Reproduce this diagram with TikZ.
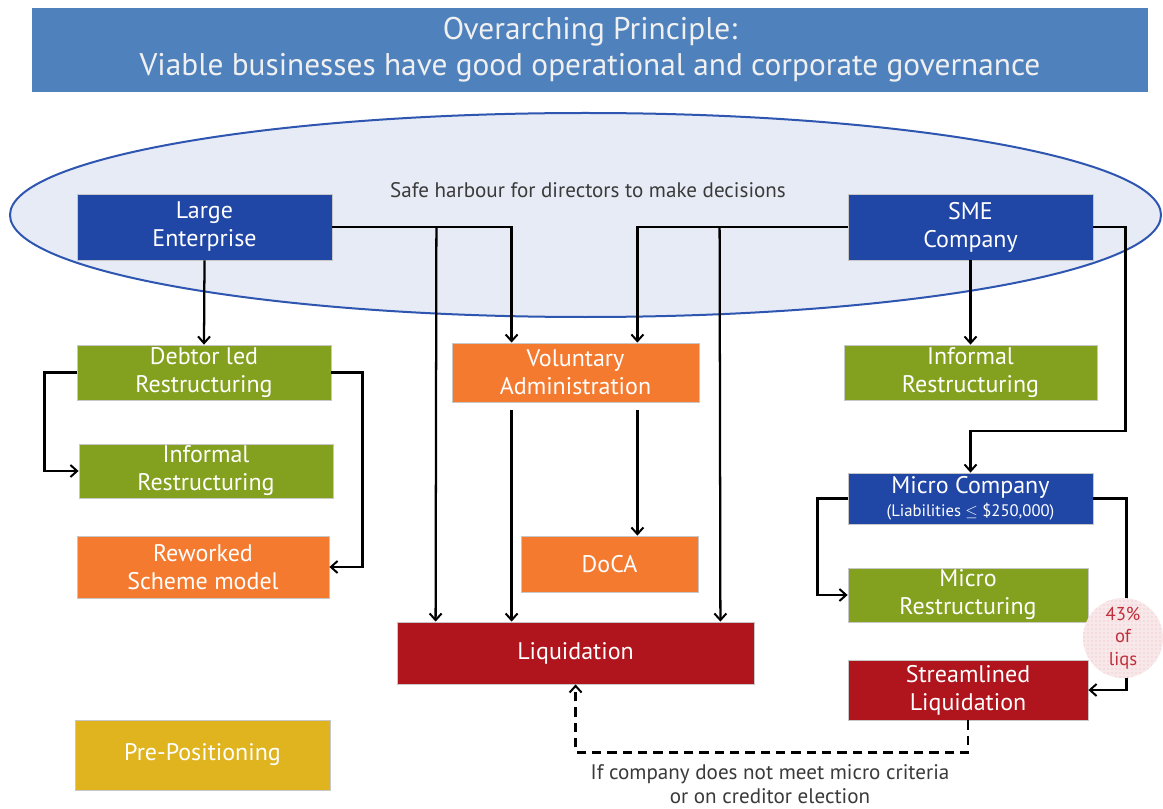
\documentclass[tikz,border=0pt]{standalone}
\usepackage{fontspec}
\setmainfont{PT Sans}
\usetikzlibrary{arrows.meta,calc,shapes.geometric,patterns}
\definecolor{bannerblue}{HTML}{4F81BD}
\definecolor{ellfill}{HTML}{E7EBF5}
\definecolor{elldraw}{HTML}{2E55B0}
\definecolor{boxblue}{HTML}{2046A6}
\definecolor{boxgreen}{HTML}{83A11E}
\definecolor{boxorange}{HTML}{F47A30}
\definecolor{boxred}{HTML}{B0141C}
\definecolor{boxyellow}{HTML}{E0B41E}
\definecolor{pctfill}{HTML}{F8E8E9}
\definecolor{pctdots}{HTML}{E8B8BC}
\definecolor{pcttext}{HTML}{C0303A}
\definecolor{graytext}{HTML}{3A3A3A}
\begin{document}
\begin{tikzpicture}[x=0.75pt,y=-0.75pt,
  sz/.style 2 args={minimum width=#1*0.75pt, minimum height=#2*0.75pt},
  box/.style={rectangle, inner sep=0pt, draw=black!22, line width=0.6pt, text=white, align=center,
    font=\fontsize{18}{21}\selectfont},
  bluebox/.style={box, fill=boxblue},
  greenbox/.style={box, fill=boxgreen},
  orangebox/.style={box, fill=boxorange},
  redbox/.style={box, fill=boxred},
  yellowbox/.style={box, fill=boxyellow},
  arr/.style={line width=1.7pt, -{Straight Barb[length=5pt,width=9pt,line width=1.5pt]}},
  banner/.style={rectangle, fill=bannerblue, inner sep=0pt, text=white!94!black, align=center,
    font=\fontsize{23.5}{27}\selectfont}
]
\useasboundingbox (0,0) rectangle (1163,809);
\fill[white] (0,0) rectangle (1163,809);

% banner
\node[banner, sz={1116}{84}] (title) at (590,50) {Overarching Principle:\\Viable businesses have good operational and corporate governance};

% safe harbour ellipse
\node[ellipse, draw=elldraw, line width=1.5pt, fill=ellfill, sz={1151}{204}] (harbour) at (585.5,215) {};
\node[text=graytext, font=\fontsize{15.8}{18}\selectfont] (safe) at (588,190) {Safe harbour for directors to make decisions};

% boxes
\node[bluebox, sz={255}{66}] (le) at (204.5,227) {Large\\Enterprise};
\node[bluebox, sz={245}{66}] (sme) at (970.5,227) {SME\\Company};
\node[greenbox, sz={254}{55}] (debt) at (204,372.5) {Debtor led\\Restructuring};
\node[greenbox, sz={254}{54}] (infl) at (206,471) {Informal\\Restructuring};
\node[orangebox, sz={252}{62}] (rew) at (203,567) {Reworked\\Scheme model};
\node[yellowbox, sz={255}{70}] (pre) at (202.5,755) {Pre-Positioning};
\node[orangebox, sz={247}{59}] (va) at (575.5,372.5) {Voluntary\\Administration};
\node[orangebox, sz={177}{56}] (doca) at (609.5,564) {DoCA};
\node[redbox, sz={357}{62}] (liq) at (575.5,653) {Liquidation};
\node[greenbox, sz={253}{55}] (infr) at (970.5,372.5) {Informal\\Restructuring};
\node[bluebox, sz={245}{51}, font=\fontsize{18}{19}\selectfont] (micro) at (970.5,498.5) {Micro Company\\[-2pt]{\fontsize{12.5}{13}\selectfont (Liabilities $\leq$ \$250,000)}};
\node[greenbox, sz={240}{54}] (micror) at (968,595) {Micro\\Restructuring};
\node[redbox, sz={240}{60}] (stream) at (968,690) {Streamlined\\Liquidation};

% connectors
\draw[arr] (le.south) -- (debt.north);
\draw[arr] (le.east) -| ($(va.north west)+(60,0)$);
\draw[arr] ($(le.east)+(104,0)$) -- ($(liq.north west)+(39,0)$);
\draw[arr] (sme.west) -| ($(va.north east)+(-62,0)$);
\draw[arr] ($(sme.west)+(-128,0)$) -- ($(liq.north east)+(-34,0)$);
\draw[arr] (sme.south) -- (infr.north);
\draw[arr] (sme.east) -| ($(sme.east)+(32,204)$) -| (micro.north);
\draw[arr] (debt.west) -- ++(-32,0) |- (infl.west);
\draw[arr] (debt.east) -- ++(31,0) |- (rew.east);
\draw[arr] ($(va.south west)+(60,8)$) -- ($(liq.north west)+(115,0)$);
\draw[arr] ($(va.south east)+(-62,8)$) -- ($(doca.north east)+(-61,0)$);
\draw[arr] (micro.west) -- ++(-30,0) |- (micror.west);
\draw[arr] (micro.east) -- ++(33,0) |- (stream.east);
\draw[arr, dash pattern=on 7pt off 4.5pt] (stream.south) -- ++(0,32) -| ($(liq.south west)+(179,0)$);

% 43% bubble
\node[circle, fill=pctfill, inner sep=0pt, minimum size=80*0.75pt] (pctbg) at (1123,638) {};
\node[circle, pattern=dots, pattern color=pctdots, inner sep=0pt, minimum size=80*0.75pt, text=pcttext, align=center,
  font=\fontsize{14}{17}\selectfont] (pct) at (1123,638) {43\%\\of\\liqs};

% note
\node[text=graytext, align=center, font=\fontsize{15.8}{18}\selectfont] (note) at (770,784) {If company does not meet micro criteria\\or on creditor election};
\end{tikzpicture}
\end{document}
